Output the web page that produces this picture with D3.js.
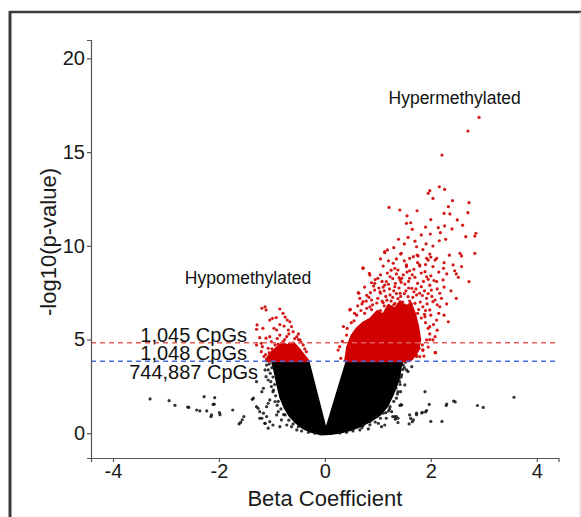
<!DOCTYPE html>
<html><head><meta charset="utf-8">
<script src="https://cdn.jsdelivr.net/npm/d3@7"></script>
<style>
html,body{margin:0;padding:0;background:#fff;}
svg{display:block;font-family:"Liberation Sans",Arial,sans-serif;}
</style></head>
<body><svg id="chart" width="581" height="517"></svg>
<script>
// ---------- data ----------
const xTicks = [-4, -2, 0, 2, 4];
const yTicks = [0, 5, 10, 15, 20];
const xDomain = [-4.415, 4.41];
const yDomain = [-1.32, 20.98];
const thresholdValues = [4.83, 3.84];          // red and blue dashed thresholds
const countLabels = ["1,045 CpGs", "1,048 CpGs", "744,887 CpGs"];
const countLabelY = [5.25, 4.3, 3.28];
const countLabelX = [-1.47, -1.47, -1.26];
const groupLabels = ["Hypermethylated", "Hypomethylated"];
const groupLabelX = [2.45, -1.45];
const groupLabelY = [17.9, 8.28];
const xTitle = "Beta Coefficient";
const yTitle = "-log10(p-value)";

// outline of the dense non-significant (black) cloud
const blackCloud = [
  [-1.0,3.84],[-0.95,3.3],[-0.9,2.6],[-0.84,1.9],[-0.76,1.35],[-0.66,0.9],[-0.54,0.55],
  [-0.42,0.28],[-0.26,0.08],[-0.08,-0.06],[0.1,-0.04],[0.3,0.04],[0.5,0.18],[0.68,0.38],
  [0.86,0.65],[1.04,0.98],[1.18,1.45],[1.28,2.04],[1.36,2.6],[1.41,3.11],[1.45,3.84],
  [0.41,3.84],[0.02,0.2],[-0.31,3.84]
];
// outlines of the dense significant (red) cores
const redCoreLeft = [
  [-1.12,3.84],[-1.07,4.1],[-1.0,4.35],[-0.9,4.6],[-0.8,4.8],[-0.7,4.7],[-0.6,4.85],
  [-0.5,4.55],[-0.4,4.2],[-0.3,3.84]
];
const redCoreRight = [
  [0.38,3.84],[0.42,4.6],[0.5,5.2],[0.6,5.6],[0.72,5.9],[0.85,6.1],[0.98,6.5],[1.1,6.35],
  [1.2,6.85],[1.32,6.65],[1.42,7.05],[1.52,6.75],[1.62,6.95],[1.7,6.4],[1.76,5.7],[1.8,5.0],
  [1.76,4.4],[1.66,4.0],[1.6,3.84]
];
// individually visible non-significant points
const blackPoints = [
  [-3.3,1.83],[-2.94,1.74],[-2.83,1.49],[-2.59,1.4],[-2.42,1.24],[-2.28,1.95],[-2.08,1.9],
  [-2.09,1.55],[-2.23,1.19],[-2.14,0.98],[-1.99,1.1],[-1.74,1.24],[-1.53,0.89],[-1.56,0.72],
  [-1.59,0.58],[-1.62,0.5],[-1.37,1.81],[-1.23,1.15],[-1.19,0.8],[-1.13,0.53],[-1.07,0.27],
  [-1.04,1.78],[-1.1,1.42],[-1.01,2.49],[-1.07,2.84],[-1.13,3.38],[-1.29,2.75],[-0.98,0.44],
  [-0.85,0.35],[-0.91,0.98],[-2.57,1.38],[-2.36,1.19],[-2.11,1.54],[-2.15,0.89],[-1.98,0.99],
  [-1.1,3.64],[-1.07,3.38],[-1.11,3.02],[-1.02,2.75],[-1.16,2.4],[-1.19,2.22],[-0.98,2.22],
  [-0.94,1.69],[-1.07,1.6],[-1.29,1.42],[-1.26,1.33],[-1.35,1.87],[-1.16,1.07],[-1.1,0.89],
  [-1.23,0.8],[-1.04,0.62],[-1.13,0.53],[-0.88,1.15],[-0.82,0.71],[-0.72,0.44],[-0.63,0.35],
  [-0.75,0.98],[-0.53,0.18],[-0.44,0.12],[-0.31,0.05],[-0.19,0.0],
  [-1.0,3.5],[-0.98,3.0],[-0.95,2.6],[-0.93,2.0],[-0.88,1.7],[-0.83,1.3],[-0.78,1.0],
  [-0.68,0.7],[-0.6,0.5],[-0.5,0.35],[-1.05,3.7],[-1.03,3.2],[-0.97,2.3],[-0.9,1.5],
  [1.415,1.48],[1.97,1.54],[2.29,1.48],[2.46,1.67],[2.88,1.48],[2.99,1.38],[1.2,1.19],
  [1.28,0.89],[1.33,0.75],[1.62,0.79],[1.59,0.5],[1.73,0.99],[1.83,1.08],[1.9,1.14],
  [2.0,0.63],[2.21,0.63],[1.89,2.22],[1.43,1.51],[2.3,1.56],[2.43,1.72],[3.57,1.92],
  [1.84,1.12],[1.92,1.21],[1.65,0.62],[1.26,1.15],[1.35,0.89],[1.38,0.57],[1.51,2.58],
  [1.43,2.22],[1.34,2.4],[1.64,3.55],[1.57,3.29],[1.48,3.64],[1.54,3.38],[1.45,3.11],
  [1.41,2.75],[1.38,2.22],[1.35,1.87],[1.45,1.51],[1.23,1.42],[1.1,1.07],[0.98,0.89],
  [1.16,0.8],[1.32,0.89],[1.38,0.8],[1.6,0.98],[1.73,1.07],[1.67,0.71],[0.85,0.62],
  [1.01,0.53],[1.07,0.35],[1.13,0.44],[0.72,0.41],[0.82,0.23],[0.66,0.18],[0.53,0.12],
  [0.41,0.05],[0.28,0.02],
  [1.45,3.75],[1.47,3.4],[1.44,3.0],[1.42,2.6],[1.37,2.1],[1.3,1.7],[1.22,1.3],[1.15,1.1],
  [1.05,0.8],[0.95,0.6],[0.85,0.45],[0.7,0.3],[1.5,3.5],[1.4,2.9],[1.52,3.8]
];
// individually visible significant points
const redPoints = [
  // left wing
  [-1.19,6.67],[-1.13,6.75],[-1.11,6.58],[-0.85,6.63],[-0.79,6.4],[-0.92,6.17],[-0.99,6.13],
  [-1.04,6.04],[-0.71,6.04],[-0.66,5.95],[-1.28,5.78],[-1.17,5.6],[-1.29,5.55],[-0.96,5.6],
  [-0.91,5.51],[-0.77,5.72],[-0.69,5.51],[-0.63,5.69],[-0.6,5.42],[-1.11,5.07],[-1.23,5.1],
  [-1.04,5.15],[-0.85,5.24],[-0.72,5.15],[-0.53,5.15],[-0.47,4.98],[-1.29,4.71],[-1.18,4.62],
  [-1.2,4.35],[-1.07,4.53],[-0.41,4.71],[-0.35,4.35],[-1.15,4.09],[-1.01,4.89],[-0.94,4.71],
  [-0.79,4.89],[-0.66,4.8],[-0.82,4.53],[-0.6,4.57],[-1.1,3.95],[-1.05,4.3],[-0.5,5.0],
  [-1.12,4.2],[-1.0,4.5],[-0.88,4.75],[-0.76,5.0],[-0.68,5.3],[-0.57,5.05],[-0.5,5.3],
  [-0.45,4.85],[-0.38,4.5],[-0.9,5.05],[-1.2,4.8],[-0.85,5.8],[-0.75,6.2],
  // right wing
  [2.91,16.85],[2.7,16.12],[2.21,14.84],[2.16,13.15],[2.26,13.01],[1.98,12.94],[1.95,12.8],
  [2.04,12.53],[2.41,12.41],[2.72,12.3],[1.21,12.05],[1.415,11.91],[1.74,11.87],[2.33,12.09],
  [2.25,11.73],[2.36,11.7],[2.7,11.77],[2.5,11.38],[1.54,11.2],[1.62,11.23],[2.26,11.06],
  [1.65,10.88],[2.14,10.97],[2.18,10.7],[2.85,10.67],[2.83,10.52],[2.66,10.49],[1.39,10.35],
  [1.57,10.45],[1.82,10.58],[1.99,10.63],[2.16,10.27],[2.28,10.35],[1.73,9.95],[1.91,10.1],
  [2.04,9.99],[1.18,9.78],[1.44,9.6],[1.13,9.63],[2.55,9.6],[2.83,9.6],[2.58,9.46],[1.76,9.46],
  [1.6,9.33],[1.95,9.24],[2.11,9.33],[2.42,8.98],[2.45,8.67],[2.58,8.89],[0.72,8.82],[1.1,8.92],
  [1.32,8.8],[1.54,8.89],[1.79,8.98],[2.24,8.8],[2.48,8.5],[0.84,8.53],[1.0,8.27],[2.52,8.32],
  [2.72,8.09],[0.88,8.03],[1.16,8.09],[1.42,8.18],[1.6,8.27],[1.92,8.35],[2.23,8.18],[0.64,7.47],
  [0.79,7.36],[0.94,7.64],[1.05,7.47],[2.48,7.2],[0.72,7.02],[0.48,6.61],[0.85,6.75],[2.17,7.47],
  [2.04,7.02],[2.33,5.95],[2.08,4.3],[1.85,4.44],[2.17,6.75],[1.79,7.47],
  [1.13,9.69],[1.43,9.56],[1.67,9.42],[1.74,9.51],[1.92,9.33],[1.98,9.56],[2.08,9.24],
  [0.72,8.8],[1.29,9.07],[1.38,8.71],[1.54,8.98],[1.6,8.67],[1.79,8.92],[1.89,8.62],[2.04,8.89],
  [0.85,8.44],[1.23,8.35],[1.45,8.27],[1.7,8.32],[1.95,8.21],[2.11,8.09],[0.94,8.0],[1.13,7.91],
  [1.32,7.82],[1.51,7.96],[1.64,7.73],[1.82,7.82],[2.01,7.64],[0.63,7.5],[1.04,7.55],[1.23,7.38],
  [1.42,7.47],[1.57,7.29],[1.73,7.38],[1.92,7.2],[2.08,7.11],[0.88,7.11],[1.1,6.97],[1.32,6.93],
  [1.51,6.84],[1.7,6.93],[1.85,6.75],[1.98,6.58],[0.47,6.58],[0.79,6.67],[2.11,6.04],[1.98,5.69],
  [1.89,6.22],[0.35,5.69],[0.41,5.24],[0.25,4.44],[0.28,4.62],[2.04,4.98],[1.85,4.44],[1.73,4.09],
  [0.95,6.3],[1.05,6.55],[1.18,6.2],[1.27,6.6],[1.36,6.35],[1.45,6.62],[1.55,6.3],[1.62,6.7],
  [1.75,6.4],[1.82,6.15],[0.9,6.85],[1.0,7.2],[1.15,7.3],[1.25,7.05],[1.38,7.18],[1.47,7.0],
  [1.6,7.05],[1.68,7.55],[1.8,7.0],[1.93,6.9],[1.02,7.75],[1.12,7.6],[1.2,7.95],[1.3,7.6],
  [1.4,7.75],[1.53,7.6],[1.58,8.1],[1.75,8.0],[1.88,7.6],[1.98,7.9],[0.83,7.25],[0.75,7.8],
  [0.7,6.9],[1.35,8.5],[1.48,8.45],[1.65,8.45],[1.82,8.55],[1.25,8.7],[2.0,8.4],[2.25,7.8],
  [2.3,6.9],[2.15,6.4],[1.05,8.45],[0.6,6.3],[0.68,6.55],[1.3,9.9],[1.5,10.1],[1.7,10.25],
  [1.85,9.8],[2.25,9.1],[2.35,9.5],[1.05,9.3],[1.9,11.0],[2.0,11.4],[2.4,10.9],[1.55,11.6],
  [2.6,11.1],[2.08,5.15],[2.09,4.3],[1.98,5.3],[1.92,4.98],[1.84,4.71],[1.78,4.53],[1.73,4.18],
  [1.79,4.09],[1.87,4.12],[1.95,5.6],[2.0,6.3],[1.9,5.9],
  [0.55,6.0],[0.62,6.8],[0.66,7.2],[0.78,7.05],[0.86,7.5],[0.92,7.85],[0.98,6.95],[1.08,7.05],
  [1.1,7.8],[1.17,7.1],[1.22,7.7],[1.28,7.25],[1.33,8.0],[1.35,7.45],[1.43,7.3],[1.44,8.05],
  [1.5,7.45],[1.52,6.45],[1.58,7.75],[1.63,6.9],[1.66,7.25],[1.72,7.7],[1.77,6.6],[1.84,7.35],
  [1.86,8.1],[1.9,6.55],[1.95,7.45],[2.02,7.3],[2.06,8.15],[2.12,7.7],[2.2,7.2],[2.15,8.6],
  [1.0,6.5],[1.12,6.8],[1.2,6.55],[1.3,6.85],[1.4,6.7],[1.58,6.6],[1.68,6.3],[1.88,6.35],
  [0.88,6.6],[0.75,6.4],[0.95,8.2],[1.08,8.1],[1.18,8.55],[1.28,8.25],[1.4,8.3],[1.55,8.6],
  [1.68,8.75],[1.75,9.1],[1.9,9.0],[2.0,9.4],[1.5,9.2],[1.35,9.3],[1.2,9.2],[2.3,8.5],
  [2.38,7.6],[2.12,6.85],[2.25,6.3],[2.05,5.8],[1.98,5.0],[2.12,5.5],[1.95,4.6],[0.3,4.0],
  [0.33,4.9],[0.42,5.6],[0.5,5.9],[0.56,6.4]
];

// ---------- drawing ----------
const svg = d3.select("#chart");
const x = d3.scaleLinear().domain(xDomain).range([91, 558.5]);
const y = d3.scaleLinear().domain(yDomain).range([458, 40]);

// outer frame of the figure panel
svg.append("line").attr("x1",10).attr("y1",12).attr("x2",581).attr("y2",12)
  .attr("stroke","#3a3a3a").attr("stroke-width",2.5);
svg.append("line").attr("x1",10).attr("y1",11).attr("x2",10).attr("y2",517)
  .attr("stroke","#3a3a3a").attr("stroke-width",3);
svg.append("line").attr("x1",580).attr("y1",12).attr("x2",580).attr("y2",517)
  .attr("stroke","#d8d8d8").attr("stroke-width",1);

const poly = d3.line().x(d => x(d[0])).y(d => y(d[1])).curve(d3.curveLinearClosed);

// black cloud
svg.append("path").attr("d", poly(blackCloud))
  .attr("fill","#000").attr("stroke","#000").attr("stroke-width",2).attr("stroke-linejoin","round");
svg.append("g").selectAll("circle").data(blackPoints).join("circle")
  .attr("cx", d => x(d[0])).attr("cy", d => y(d[1])).attr("r",1.6)
  .attr("fill","#111").attr("fill-opacity",0.85);

// red cores and points
const red = "#d00000";
[redCoreLeft, redCoreRight].forEach(c => {
  svg.append("path").attr("d", poly(c))
    .attr("fill",red).attr("stroke",red).attr("stroke-width",2).attr("stroke-linejoin","round");
});
svg.append("g").selectAll("circle").data(redPoints).join("circle")
  .attr("cx", d => x(d[0])).attr("cy", d => y(d[1])).attr("r",1.6)
  .attr("fill",red).attr("fill-opacity",0.9);

// threshold lines
const lineColors = ["#e55a5a", "#4a6ee0"];
thresholdValues.forEach((v,i) => {
  svg.append("line").attr("x1", x.range()[0]).attr("x2", x.range()[1])
    .attr("y1", y(v)).attr("y2", y(v))
    .attr("stroke", lineColors[i]).attr("stroke-width", 1.4)
    .attr("stroke-dasharray","5,4");
});

// axes
const xAxis = svg.append("g").attr("transform","translate(0,458)")
  .call(d3.axisBottom(x).tickValues(xTicks).tickSize(4).tickPadding(2).tickFormat(d3.format("d")));
const yAxis = svg.append("g").attr("transform","translate(91,0)")
  .call(d3.axisLeft(y).tickValues(yTicks).tickSize(4).tickPadding(2).tickFormat(d3.format("d")));
[xAxis, yAxis].forEach(a => {
  a.select(".domain").attr("stroke","#555").attr("stroke-width",1.2);
  a.selectAll(".tick line").attr("stroke","#555").attr("stroke-width",1.2);
  a.selectAll(".tick text").attr("fill","#1a1a1a").style("font-size","20px")
    .style("font-family","'Liberation Sans',Arial,sans-serif");
});
xAxis.selectAll(".tick text").text(d => String(d));

// axis titles
svg.append("text").attr("x", x(0)).attr("y", 498).attr("text-anchor","middle")
  .attr("dominant-baseline","central").style("font-size","22px").attr("fill","#1a1a1a").text(xTitle);
svg.append("text").attr("transform","translate(48,242) rotate(-90)").attr("text-anchor","middle")
  .attr("dominant-baseline","central").style("font-size","22px").attr("fill","#1a1a1a").text(yTitle);

// annotations
groupLabels.forEach((t,i) => {
  svg.append("text").attr("x", x(groupLabelX[i])).attr("y", y(groupLabelY[i]))
    .attr("text-anchor","middle").attr("dominant-baseline","central")
    .style("font-size","17.5px").attr("fill","#111").text(t);
});
countLabels.forEach((t,i) => {
  svg.append("text").attr("x", x(countLabelX[i])).attr("y", y(countLabelY[i]))
    .attr("text-anchor","end").attr("dominant-baseline","central")
    .style("font-size","20px").attr("fill","#111").text(t);
});
</script></body></html>
